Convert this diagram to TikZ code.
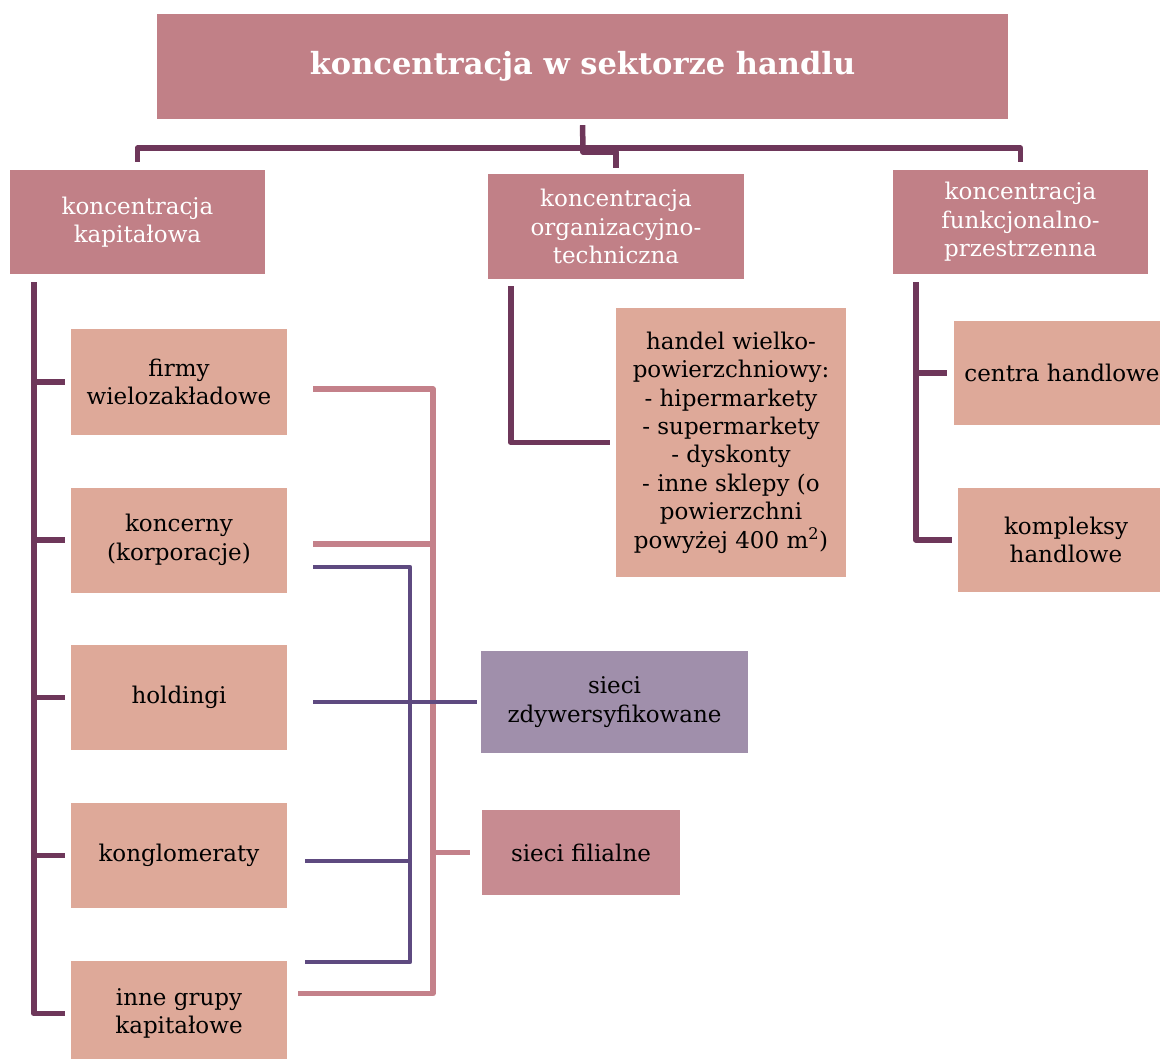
\documentclass[tikz,border=0pt]{standalone}
\usepackage{fontspec}
\setmainfont{DejaVu Serif}
\usepackage{tikz}
\usetikzlibrary{positioning}
\definecolor{rosebox}{RGB}{193,128,135}
\definecolor{salmon}{RGB}{222,169,153}
\definecolor{lilac}{RGB}{160,143,171}
\definecolor{filial}{RGB}{199,139,145}
\definecolor{plum}{RGB}{110,55,90}
\definecolor{pinkline}{RGB}{196,129,138}
\definecolor{violetline}{RGB}{94,74,128}

\begin{document}
\begin{tikzpicture}[
    x=1pt, y=-1pt,
    box/.style={rectangle, fill=#1, align=center, inner sep=0pt, font=\fontsize{23}{28.4}\selectfont},
    head/.style={box=rosebox, text=white, minimum width=255pt, minimum height=104pt},
    leaf/.style={box=salmon, minimum width=216pt, minimum height=105pt},
    trunk/.style={line width=5.5pt, color=plum, line join=round},
    pinkln/.style={line width=5.5pt, color=pinkline, line join=round},
    violetln/.style={line width=4.5pt, color=violetline, line join=round}
]
    \useasboundingbox (0,0) rectangle (1160,1059);

    % boxes
    \node[box=rosebox, text=white, minimum width=851pt, minimum height=105pt, font=\fontsize{30.5}{36}\selectfont\bfseries] (title) at (582.5,66.5) {koncentracja w sektorze handlu};
    \node[head] (kap) at (137.5,222) {koncentracja\\kapitałowa};
    \node[head, minimum width=256pt, minimum height=105pt] (org) at (616,226.5) {koncentracja\\organizacyjno-\\techniczna};
    \node[head] (funk) at (1020.5,222) {koncentracja\\funkcjonalno-\\przestrzenna};

    \node[leaf] (firmy) at (179,382) {firmy\\wielozakładowe};
    \node[leaf] (koncerny) at (179,540) {koncerny\\(korporacje)};
    \node[leaf] (holdingi) at (179,697.5) {holdingi};
    \node[leaf] (konglom) at (179,855.5) {konglomeraty};
    \node[leaf] (inne) at (179,1013.5) {inne grupy\\kapitałowe};

    \node[leaf, minimum width=230pt, minimum height=269pt] (handel) at (731,442.5) {handel wielko-\\powierzchniowy:\\- hipermarkety\\- supermarkety\\- dyskonty\\- inne sklepy (o\\powierzchni\\powyżej 400 m\textsuperscript{2})};
    \node[leaf, minimum height=104pt] (centra) at (1062,373) {centra handlowe};
    \node[leaf, minimum height=104pt] (kompl) at (1066,540) {kompleksy\\handlowe};

    \node[box=lilac, minimum width=267pt, minimum height=102pt] (zdyw) at (614.5,702) {sieci\\zdywersyfikowane};
    \node[box=filial, minimum width=198pt, minimum height=85pt] (filialne) at (581,852.5) {sieci filialne};

    % top level
    \coordinate (bar) at (583,148);
    \draw[trunk] ([yshift=-6pt]title.south) -- (bar);
    \draw[trunk] ([yshift=8pt]kap.north) |- (bar) -| ([yshift=8pt]funk.north);
    \draw[trunk] (bar) -- ++(0,4) -| ([yshift=6pt]org.north);

    % left column
    \coordinate (ltrunk) at ([xshift=24pt,yshift=-8pt]kap.south west);
    \draw[trunk] (ltrunk) |- ([xshift=-6pt]inne.west);
    \foreach \n in {firmy,koncerny,holdingi,konglom}
        \draw[trunk] (ltrunk |- \n.west) -- ([xshift=-6pt]\n.west);

    % middle column
    \draw[trunk] ([xshift=23pt,yshift=-7pt]org.south west) |- ([xshift=-6pt]handel.west);

    % right column
    \coordinate (rtrunk) at ([xshift=23pt,yshift=-8pt]funk.south west);
    \draw[trunk] (rtrunk) |- ([xshift=-6pt]kompl.west);
    \draw[trunk] (rtrunk |- centra.west) -- ([xshift=-7pt]centra.west);

    % sieci filialne
    \coordinate (pbus) at (433,389);
    \draw[pinkln] ([xshift=26pt,yshift=-7pt]firmy.east) -- (pbus) |- ([xshift=11pt,yshift=20pt]inne.east);
    \draw[pinkln] ([xshift=26pt,yshift=-4pt]koncerny.east) -| (pbus);
    \draw[pinkln] (pbus |- filialne.west) -- ([xshift=-12pt]filialne.west);

    % sieci zdywersyfikowane
    \coordinate (vbus) at (410,567);
    \draw[violetln] ([xshift=26pt,yshift=-27pt]koncerny.east) -- (vbus) |- ([xshift=18pt,yshift=51.5pt]inne.east);
    \draw[violetln] ([xshift=18pt,yshift=-5.5pt]konglom.east) -| (vbus);
    \draw[violetln] ([xshift=26pt]zdyw.west -| holdingi.east) -- ([xshift=-4pt]zdyw.west);
\end{tikzpicture}
\end{document}
